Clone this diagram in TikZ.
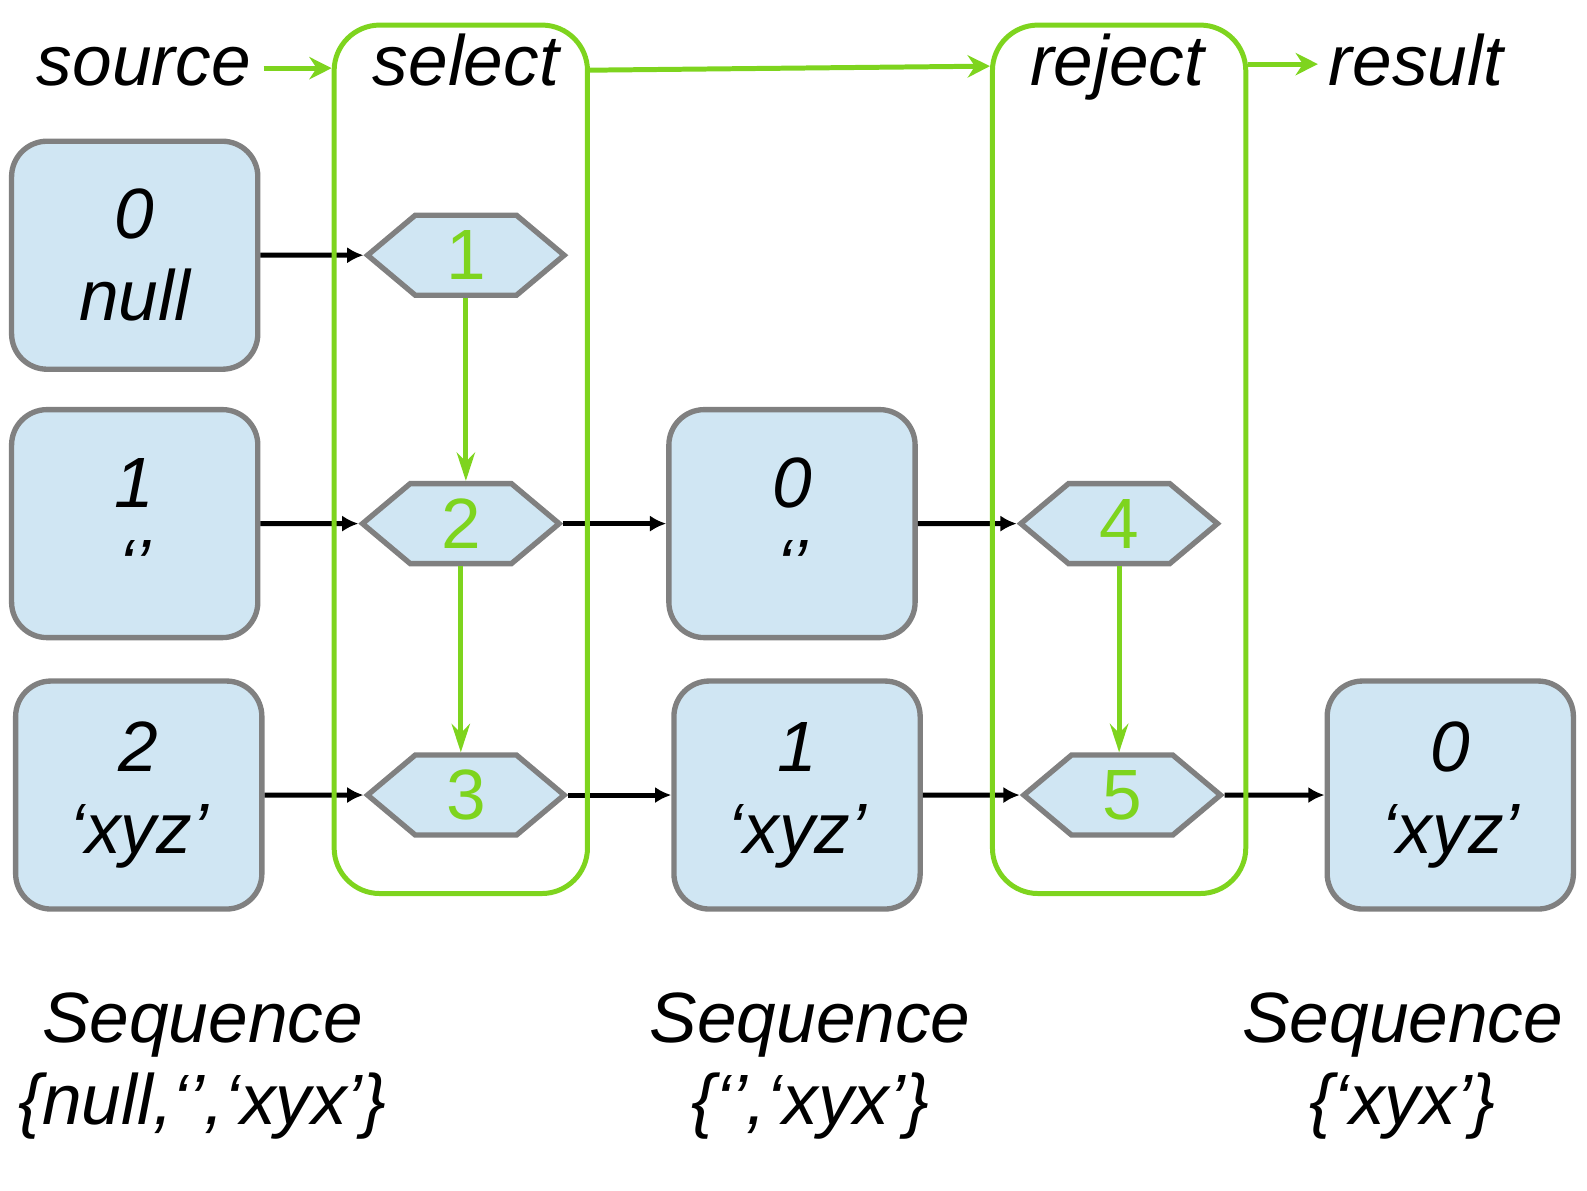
\documentclass[tikz,border=0pt]{standalone}
\usepackage{fontspec}
\setmainfont{Liberation Sans}
\usetikzlibrary{shapes.symbols, arrows.meta, calc}
\definecolor{boxblue}{RGB}{208,230,243}
\definecolor{boxgray}{RGB}{128,128,128}
\definecolor{flowgreen}{RGB}{126,212,30}
\tikzstyle{item} = [rectangle, draw=boxgray, fill=boxblue, line width=1.5pt,
    rounded corners=0.35cm, minimum width=2.43cm, minimum height=2.25cm,
    align=center, font=\fontsize{20}{23}\selectfont\itshape]
\tikzstyle{op} = [signal, signal to=west and east, signal pointer angle=80,
    draw=boxgray, fill=boxblue, line width=1.5pt, minimum width=1.94cm,
    minimum height=0.79cm, inner sep=0pt, text=flowgreen, font=\fontsize{20}{23}\selectfont]
\tikzstyle{stage} = [rectangle, draw=flowgreen, line width=1.4pt,
    rounded corners=0.45cm, minimum width=2.5cm, minimum height=8.57cm]
\tikzstyle{title} = [font=\fontsize{20}{23}\selectfont\itshape, inner sep=0pt]
\tikzstyle{line} = [draw, line width=1.4pt, -{Latex[length=1.6mm,width=1.6mm]}]
\tikzstyle{flow} = [draw=flowgreen, line width=1.4pt, -{Stealth[length=2.2mm,width=2.2mm]}]
\tikzstyle{down} = [flow, -{Stealth[length=2.8mm,width=1.8mm]}]

\begin{document}
\begin{tikzpicture}[x=0.01cm, y=-0.01cm]
        \useasboundingbox (0,0) rectangle (1567,1175);
        % Place nodes
        \node [item] (src0) at (133,252) {0\\null};
        \node [item] (src1) at (133,517) {1\\‘’};
        \node [item] (src2) at (137,785) {2\\‘xyz’};
        \node [item] (mid0) at (782,517) {0\\‘’};
        \node [item] (mid1) at (787,785) {1\\‘xyz’};
        \node [item] (res0) at (1432,785) {0\\‘xyz’};
        % Operator nodes
        \node [op] (op1) at (460,252) {1};
        \node [op] (op2) at (455,517) {2};
        \node [op] (op3) at (460,785) {3};
        \node [op] (op4) at (1105,517) {4};
        \node [op] (op5) at (1108,785) {5};
        % Titles
        \node [title, anchor=base] (source) at (142,84) {source};
        \node [title, anchor=base] (select) at (460,84) {select};
        \node [title, anchor=base] (reject) at (1103,84) {reject};
        \node [title, anchor=base] (result) at (1398,84) {result};
        \node [title, align=center] (seq0) at (200,1053) {Sequence\\\{null,‘’,‘xyx’\}};
        \node [title, align=center] (seq1) at (800,1053) {Sequence\\\{‘’,‘xyx’\}};
        \node [title, align=center] (seq2) at (1385,1053) {Sequence\\\{‘xyx’\}};
        % Draw edges
        \path [line] (src0) -- (op1);
        \path [line] (src1) -- (op2);
        \path [line] (op2) -- (mid0);
        \path [line] (mid0) -- (op4);
        \path [line] (src2) -- (op3);
        \path [line] (op3) -- (mid1);
        \path [line] (mid1) -- (op5);
        \path [line] (op5) -- (res0);
        \path [down] (op1.south) -- (op1.south |- op2.north);
        \path [down] (op2.south) -- (op2.south |- op3.north);
        \path [down] (op4.south) -- (op4.south |- op5.north);
        % Stages
        \node [stage] (sel) at (455,453.5) {};
        \node [stage] (rej) at (1105,453.5) {};
        \coordinate (in) at ($(sel.north west)+(0,45)$);
        \coordinate (out) at ($(rej.north east)+(0,41)$);
        \path [flow] ($(source.east |- in)+(12,0)$) -- (in);
        \path [flow] ($(sel.north east)+(0,47)$) -- ($(rej.north west)+(0,43)$);
        \path [flow] (out) -- ($(result.west |- out)+(-10,0)$);
    \end{tikzpicture}
\end{document}
